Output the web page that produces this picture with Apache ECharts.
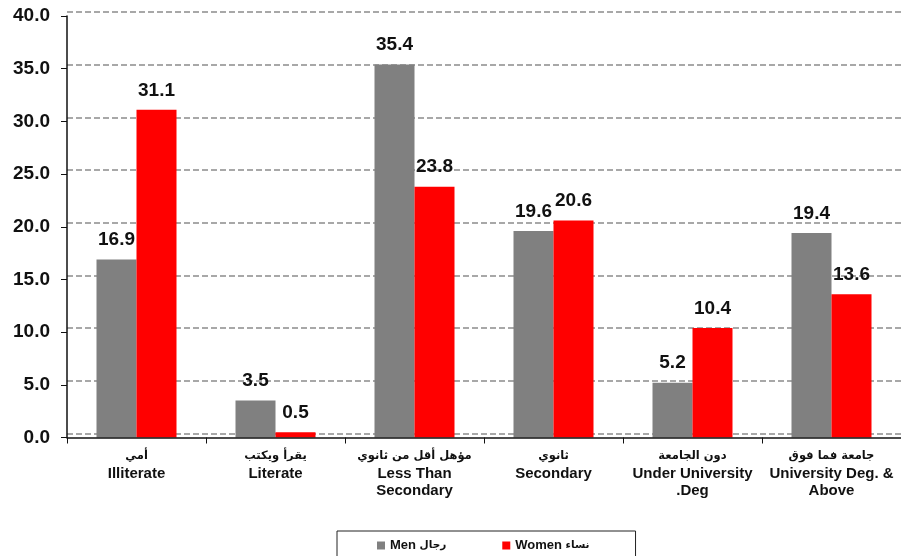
<!DOCTYPE html>
<html>
<head>
<meta charset="utf-8">
<script src="https://cdn.jsdelivr.net/npm/echarts@6/dist/echarts.min.js"></script>
<style>
html, body { margin: 0; padding: 0; background: #fff; }
#chart { width: 901px; height: 556px; }
</style>
</head>
<body>
<div id="chart"></div>
<script>
// categories (Arabic line + English)
var categories = [
    'أمي\nIlliterate',
    'يقرأ ويكتب\nLiterate',
    'مؤهل أقل من ثانوي\nLess Than\nSecondary',
    'ثانوي\nSecondary',
    'دون الجامعة\nUnder University\n.Deg',
    'جامعة فما فوق\nUniversity Deg. &\nAbove'
];
var men = [16.9, 3.5, 35.4, 19.6, 5.2, 19.4];
var women = [31.1, 0.5, 23.8, 20.6, 10.4, 13.6];
var seriesNames = ['Men رجال', 'Women نساء'];

var font = '"Liberation Sans", Arial, "DejaVu Sans", sans-serif';
var arFont = '"DejaVu Sans", sans-serif';
var myChart = echarts.init(document.getElementById('chart'));

var labelStyle = {
    show: true,
    position: 'top',
    distance: 10,
    fontFamily: font,
    fontWeight: 'bold',
    fontSize: 19,
    color: '#111',
    formatter: function (p) { return p.value.toFixed(1); }
};

var option = {
    animation: false,
    textStyle: { fontFamily: font },
    grid: [
        // main grid: bars, axes, labels
        { left: 67, top: 16, width: 838, height: 421.5 },
        // dashed grid lines sit a few pixels higher in the original
        { left: 67, top: 12, width: 838, height: 421.5 }
    ],
    legend: {
        top: 531,
        left: 337,
        itemWidth: 8,
        itemHeight: 8,
        itemGap: 56,
        padding: [8, 46, 14, 40],
        borderColor: '#222',
        borderWidth: 1,
        icon: 'rect',
        formatter: function (name) {
            var i = name.indexOf(' ');
            return '{en|' + name.slice(0, i) + '} {ar|' + name.slice(i + 1) + '}';
        },
        textStyle: {
            fontFamily: font, fontWeight: 'bold', fontSize: 13, color: '#111',
            rich: {
                en: { fontFamily: font, fontWeight: 'bold', fontSize: 13, color: '#111' },
                ar: { fontFamily: arFont, fontWeight: 'bold', fontSize: 10.5, color: '#111' }
            }
        },
        data: seriesNames
    },
    xAxis: [
        {
            type: 'category',
            gridIndex: 0,
            data: categories,
            z: 3,
            axisLine: { lineStyle: { color: '#111', width: 1.5 } },
            axisTick: { show: true, length: 6, lineStyle: { color: '#111' } },
            axisLabel: {
                interval: 0,
                margin: 10,
                color: '#111',
                formatter: function (v) {
                    var i = v.indexOf('\n');
                    return '{ar|' + v.slice(0, i) + '}\n{en|' + v.slice(i + 1) + '}';
                },
                rich: {
                    ar: { fontFamily: arFont, fontWeight: 'bold', fontSize: 11.5, lineHeight: 17.5, color: '#111' },
                    en: { fontFamily: font, fontWeight: 'bold', fontSize: 15, lineHeight: 17.5, color: '#111' }
                }
            }
        },
        {
            type: 'category',
            gridIndex: 1,
            data: categories,
            show: false
        }
    ],
    yAxis: [
        {
            type: 'value',
            gridIndex: 0,
            min: 0,
            max: 40,
            interval: 5,
            z: 3,
            axisLine: { show: true, lineStyle: { color: '#111', width: 1.5 } },
            axisTick: { show: true, length: 6, lineStyle: { color: '#111' } },
            axisLabel: {
                margin: 17,
                fontFamily: font,
                fontWeight: 'bold',
                fontSize: 19,
                color: '#111',
                formatter: function (v) { return v.toFixed(1); }
            },
            splitLine: { show: false }
        },
        {
            type: 'value',
            gridIndex: 1,
            min: 0,
            max: 40,
            interval: 5,
            axisLine: { show: false },
            axisTick: { show: false },
            axisLabel: { show: false },
            splitLine: { lineStyle: { color: '#8c8c8c', type: [6, 3], width: 1.5 } }
        }
    ],
    series: [
        {
            name: seriesNames[0],
            type: 'bar',
            data: men,
            barWidth: 40,
            barGap: '0%',
            itemStyle: { color: '#808080' },
            label: labelStyle
        },
        {
            name: seriesNames[1],
            type: 'bar',
            data: women,
            barWidth: 40,
            itemStyle: { color: '#ff0000' },
            label: labelStyle
        }
    ]
};
myChart.setOption(option);
</script>
</body>
</html>
